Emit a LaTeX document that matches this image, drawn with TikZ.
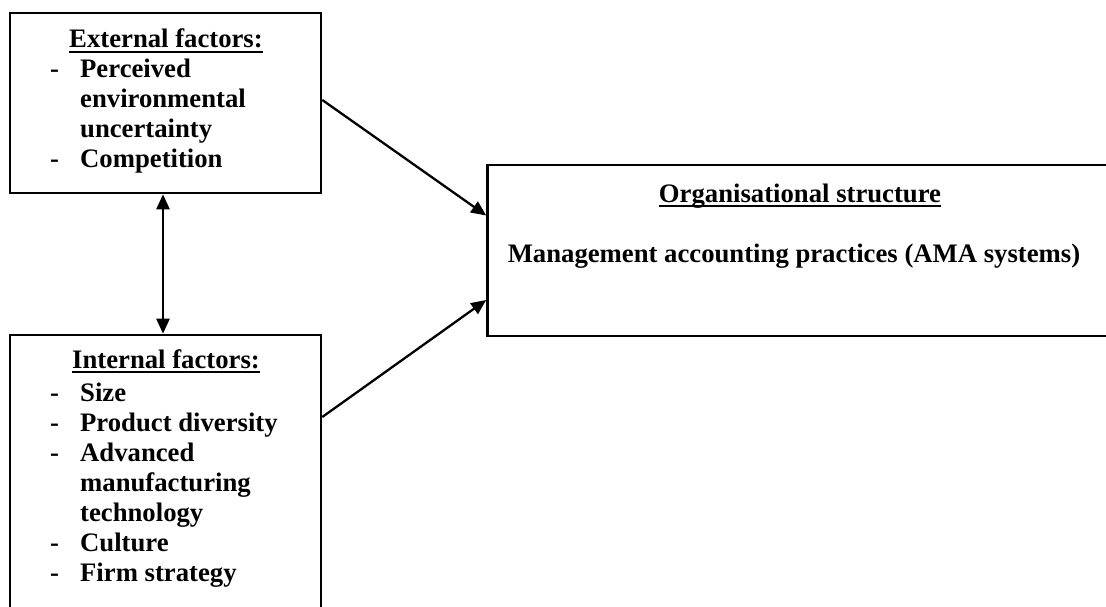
\documentclass[tikz,border=0pt]{standalone}
\usepackage{fontspec}
\setmainfont{Liberation Serif}
\usetikzlibrary{arrows.meta}
\newcommand{\myul}[1]{\setbox0\hbox{#1}\rlap{\rule[-5pt]{\wd0}{2pt}}\box0}
\begin{document}
\begin{tikzpicture}[x=1pt,y=-1pt,
  box/.style={draw, line width=2.6pt, inner sep=0pt},
  txt/.style={inner sep=0pt, font=\fontsize{26.7}{30}\selectfont\bfseries},
  conn/.style={line width=2.3pt, -{Triangle[length=15pt,width=13pt]}},
  dconn/.style={line width=2.3pt, {Triangle[length=15pt,width=13pt]}-{Triangle[length=15pt,width=13pt]}}]
\useasboundingbox (0,0) rectangle (1106,607);
\begin{scope}
\clip (0,0) rectangle (1106,607);
\node[box, minimum width=311pt, minimum height=180pt] (ext) at (165.5,103) {};
\node[box, minimum width=311pt, minimum height=320pt] (int) at (165.5,495) {};
\node[box, minimum width=700pt, minimum height=171pt] (org) at (837.5,250.5) {};
\end{scope}
% texts
\node[txt, anchor=base] (exth) at (166,48) {\myul{External factors:}};
\node[txt, anchor=base west] (extl) at (50,78) {\begin{tabular}[t]{@{}p{30pt}@{}l@{}}
-& Perceived\\ & environmental\\ & uncertainty\\ -& Competition\end{tabular}};
\node[txt, anchor=base] (inth) at (166,368) {\myul{Internal factors:}};
\node[txt, anchor=base west] (intl) at (50,401) {\begin{tabular}[t]{@{}p{30pt}@{}l@{}}
-& Size\\ -& Product diversity\\ -& Advanced\\ & manufacturing\\ & technology\\ -& Culture\\ -& Firm strategy\end{tabular}};
\node[txt, anchor=base] (orgh) at (800,202) {\myul{Organisational structure}};
\node[txt, anchor=base] (orgm) at (794,262) {Management accounting practices (AMA systems)};
% connectors
\draw[conn] ([yshift=3pt]ext.east) -- ([yshift=35pt]org.west);
\draw[conn] ([yshift=78pt]int.east) -- ([yshift=-49.5pt]org.west);
\draw[dconn] ([xshift=-2.5pt]ext.south) -- ([xshift=-2.5pt]int.north);
\end{tikzpicture}
\end{document}
